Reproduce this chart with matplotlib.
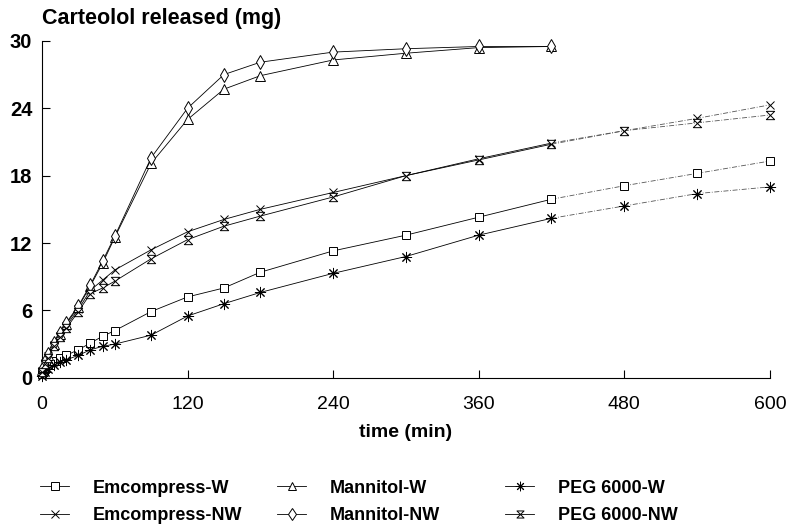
import matplotlib
matplotlib.use("Agg")
import matplotlib.pyplot as plt
from matplotlib.path import Path
import numpy as np

plt.rcParams['font.family'] = ['Liberation Sans', 'DejaVu Sans']

# ---------------- data ----------------
time_min = [0, 2.5, 5, 10, 15, 20, 30, 40, 50, 60, 90, 120, 150, 180,
            240, 300, 360, 420, 480, 540, 600]
time_mannitol = time_min[:18]

emcompress_w = [0.3, 0.8, 1.1, 1.5, 1.8, 2.0, 2.5, 3.1, 3.7, 4.2, 5.9, 7.2,
                8.0, 9.4, 11.3, 12.7, 14.3, 15.9, 17.1, 18.2, 19.3]
emcompress_nw = [0.6, 1.3, 1.9, 2.9, 3.7, 4.6, 6.1, 7.8, 8.7, 9.6, 11.4, 13.0,
                 14.1, 15.0, 16.5, 18.0, 19.5, 20.9, 22.0, 23.1, 24.3]
mannitol_w = [0.7, 1.4, 2.0, 3.0, 3.9, 4.8, 6.3, 8.2, 10.2, 12.5, 19.1, 23.0,
              25.7, 26.9, 28.3, 28.9, 29.4, 29.5]
mannitol_nw = [0.8, 1.5, 2.1, 3.1, 4.0, 4.9, 6.4, 8.3, 10.4, 12.6, 19.6, 24.0,
               27.0, 28.1, 29.0, 29.3, 29.5, 29.5]
peg_w = [0.2, 0.5, 0.8, 1.1, 1.4, 1.6, 2.0, 2.5, 2.8, 3.0, 3.8, 5.5,
         6.6, 7.6, 9.3, 10.8, 12.7, 14.2, 15.3, 16.4, 17.0]
peg_nw = [0.5, 1.2, 1.8, 2.8, 3.6, 4.4, 5.9, 7.5, 8.0, 8.6, 10.6, 12.3,
          13.5, 14.4, 16.1, 18.0, 19.4, 20.8, 22.0, 22.7, 23.4]

labels = ["Emcompress-W", "Emcompress-NW", "Mannitol-W", "Mannitol-NW",
          "PEG 6000-W", "PEG 6000-NW"]
xticks = [0, 120, 240, 360, 480, 600]
yticks = [0, 6, 12, 18, 24, 30]

# ---------------- markers ----------------
hourglass = Path([(-1, 1), (1, 1), (-1, -1), (1, -1), (-1, 1)],
                 [Path.MOVETO, Path.LINETO, Path.LINETO, Path.LINETO, Path.CLOSEPOLY])
asterisk = (8, 2, 0)

series = [
    (time_min, emcompress_w, 's', 6, labels[0]),
    (time_min, emcompress_nw, 'x', 6, labels[1]),
    (time_mannitol, mannitol_w, '^', 7, labels[2]),
    (time_mannitol, mannitol_nw, 'd', 7, labels[3]),
    (time_min, peg_w, asterisk, 8, labels[4]),
    (time_min, peg_nw, hourglass, 6, labels[5]),
]

fig = plt.figure(figsize=(7.92, 5.24), dpi=100)
ax = fig.add_axes([0.053, 0.279, 0.919, 0.643])

handles = []
split = 17  # index of t = 420
for t, v, m, ms, lab in series:
    t = np.asarray(t, dtype=float)
    v = np.asarray(v, dtype=float)
    h, = ax.plot(t[:split + 1], v[:split + 1], color='black', lw=0.6,
                 marker=m, ms=ms, mfc='white', mec='black', mew=0.7,
                 clip_on=False, zorder=3, label=lab)
    if len(t) > split + 1:
        ax.plot(t[split:], v[split:], color='#555555', lw=0.6,
                linestyle=(0, (6, 2, 1, 2)), zorder=2, clip_on=False)
        ax.plot(t[split + 1:], v[split + 1:], linestyle='none',
                marker=m, ms=ms, mfc='white', mec='black', mew=0.7,
                clip_on=False, zorder=3)
    handles.append(h)

ax.set_xlim(0, 600)
ax.set_ylim(0, 30)
ax.set_xticks(xticks)
ax.set_yticks(yticks)
ax.spines['top'].set_visible(False)
ax.spines['right'].set_visible(False)
for s in ('left', 'bottom'):
    ax.spines[s].set_linewidth(0.8)
ax.tick_params(axis='both', direction='in', length=6, width=0.8)
ax.tick_params(axis='y', pad=7)
ax.tick_params(axis='x', pad=13)
for lbl in ax.get_yticklabels():
    lbl.set_fontsize(14.5)
    lbl.set_fontweight('bold')
for lbl in ax.get_xticklabels():
    lbl.set_fontsize(14)

ax.set_xlabel("time (min)", fontsize=14, fontweight='bold', labelpad=8)
fig.text(0.053, 0.965, "Carteolol released (mg)", fontsize=15.5,
         fontweight='bold', ha='left', va='center')

# ---------------- legend: three columns ----------------
col_x = [0.051, 0.350, 0.638]
for i, cx in enumerate(col_x):
    fig.legend(handles[2 * i:2 * i + 2], labels[2 * i:2 * i + 2],
               loc='center left', bbox_to_anchor=(cx, 0.042),
               frameon=False, borderpad=0, borderaxespad=0,
               handlelength=1.6, handletextpad=1.3, labelspacing=0.6,
               markerscale=0.85,
               prop={'size': 13, 'weight': 'bold'})

fig.savefig("out.png", dpi=100)
